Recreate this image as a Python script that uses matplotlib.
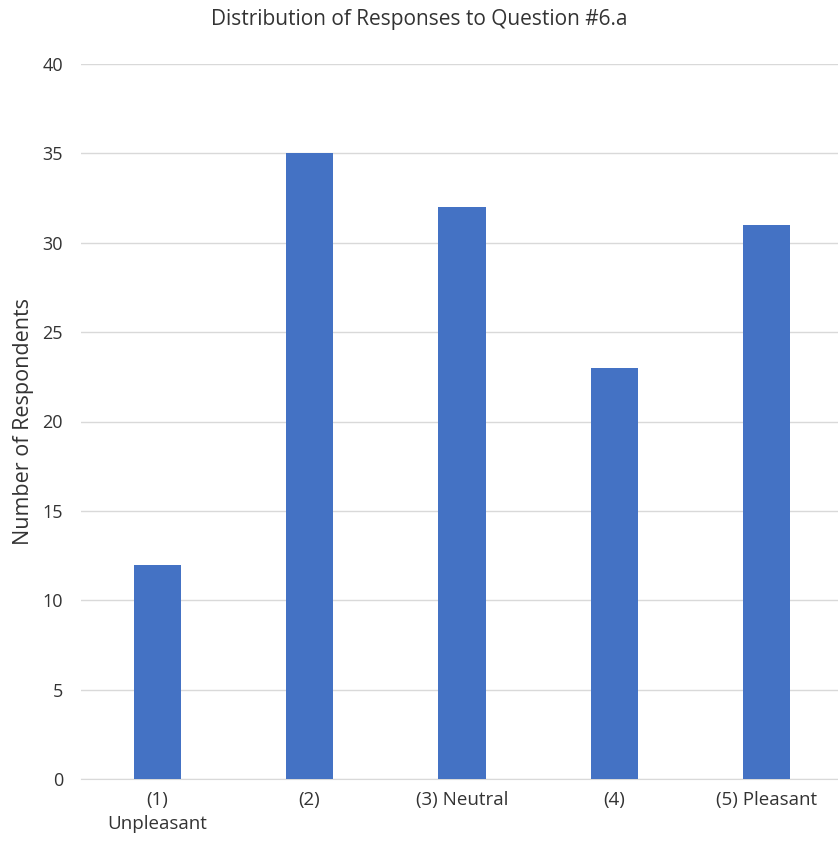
import matplotlib.pyplot as plt

categories = ['(1)\nUnpleasant', '(2)', '(3) Neutral', '(4)', '(5) Pleasant']
counts = [12, 35, 32, 23, 31]
yticks = [0, 5, 10, 15, 20, 25, 30, 35, 40]

plt.rcParams['font.family'] = ['Open Sans', 'DejaVu Sans']

fig = plt.figure(figsize=(8.38, 8.49), dpi=100)
ax = fig.add_axes([81 / 838, 70 / 849, 762 / 838, 715 / 849])

x = range(len(categories))
ax.bar(x, counts, width=0.31, color='#4472C4', zorder=3)

ax.set_xlim(-0.5, len(categories) - 0.5)
ax.set_ylim(0, 40)
ax.set_yticks(yticks)
ax.set_xticks(list(x))
ax.set_xticklabels(categories, fontsize=13.5, color='#333333', linespacing=1.4)
ax.tick_params(axis='y', labelsize=13, labelcolor='#333333', length=0, pad=13)
ax.tick_params(axis='x', length=0, pad=9)

ax.grid(axis='y', color='#d9d9d9', linewidth=1, zorder=0)
for s in ['top', 'right', 'left']:
    ax.spines[s].set_visible(False)
ax.spines['bottom'].set_color('#d9d9d9')

ax.set_ylabel('Number of Respondents', fontsize=15.5, color='#333333', labelpad=6)
fig.text(0.5, 1 - 20 / 849, 'Distribution of Responses to Question #6.a',
         ha='center', va='center', fontsize=15, color='#333333')

fig.savefig('out.png', dpi=100)
